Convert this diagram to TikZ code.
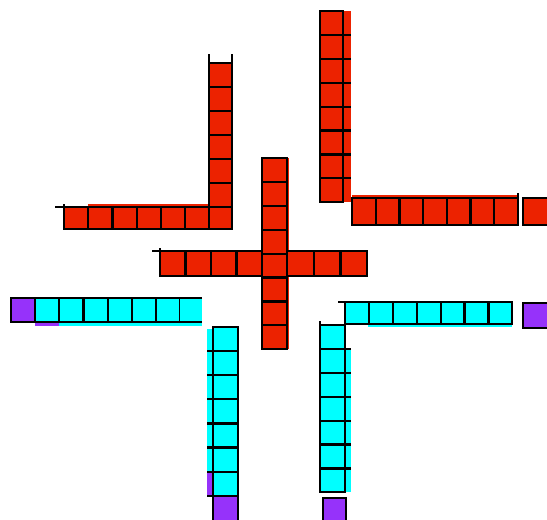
\documentclass[tikz,border=0pt]{standalone}
\definecolor{tilered}{RGB}{236,34,0}
\definecolor{tilecyan}{RGB}{0,255,255}
\definecolor{tilepurple}{RGB}{150,50,250}

\begin{document}
\begin{tikzpicture}[x=1pt, y=-1pt, line width=2.2pt,
    redtile/.style={draw=black, fill=tilered},
    cyantile/.style={draw=black, fill=tilecyan},
    purpletile/.style={draw=black, fill=tilepurple}]
    \useasboundingbox (0,0) rectangle (547,520);

    % Top left corner (red)
    \fill[tilered] (88,204) rectangle (209,229);
    \foreach \i in {0,...,5} \draw[redtile] (209,63+24*\i) rectangle ++(23,24);
    \draw[redtile] (209,207) rectangle (232,229);
    \foreach \i in {0,...,5} \draw[redtile] (64+24.2*\i,207) rectangle ++(24.2,22);
    \draw (209,54) -- (209,63) (232,54) -- (232,63);
    \draw (55,207) -- (64,207) (64,204) -- (64,207);

    % Top right corner (red)
    \fill[tilered] (320,11) rectangle (351,202);
    \foreach \i in {0,...,7} \draw[redtile] (320,11+23.9*\i) rectangle ++(23,23.9);
    \foreach \i in {1,...,7} \draw (343,11+23.9*\i) -- (351,11+23.9*\i);
    \fill[tilered] (352,195) rectangle (518,226);
    \foreach \i in {0,...,6} \draw[redtile] (352+23.7*\i,198) rectangle ++(23.7,27);
    \draw (518,193) -- (518,198);
    \draw[redtile] (523,198) rectangle (550,225);

    % Center cross (red)
    \fill[tilered] (262,158) rectangle (289,349);
    \foreach \i in {0,...,3} \draw[redtile] (160+25.5*\i,251) rectangle ++(25.5,25);
    \foreach \i in {0,...,2} \draw[redtile] (287+26.7*\i,251) rectangle ++(26.7,25);
    \foreach \i in {0,...,7} \draw[redtile] (262,158+23.9*\i) rectangle ++(25,23.9);
    \draw (152,251) -- (160,251) (160,248) -- (160,251);

    % Left arm (cyan)
    \fill[tilecyan] (59,298) rectangle (202,326);
    \fill[tilepurple] (35,320) rectangle (59,326);
    \draw[purpletile] (11,298) rectangle (35,322);
    \foreach \i in {0,...,5} \draw[cyantile] (35+24.2*\i,298) rectangle ++(24.2,24);
    \fill[tilecyan] (180,298) rectangle (202,322);
    \draw (180,298) -- (202,298) (180,322) -- (202,322);

    % Bottom left arm (cyan)
    \fill[tilecyan] (207,329) rectangle (213,472);
    \fill[tilepurple] (207,472) rectangle (213,496);
    \foreach \i in {0,...,6} \draw[cyantile] (213,327+24.1*\i) rectangle ++(25,24.1);
    \foreach \i in {1,...,7} \draw (207,327+24.1*\i) -- (213,327+24.1*\i);
    \draw[purpletile] (213,496) rectangle (238,522);

    % Bottom right arm (cyan)
    \fill[tilecyan] (345,350) rectangle (351,492);
    \foreach \i in {0,...,6} \draw[cyantile] (320,325+23.9*\i) rectangle ++(25,23.9);
    \foreach \i in {1,...,6} \draw (345,325+23.9*\i) -- (351,325+23.9*\i);
    \draw (320,321) -- (320,325);
    \draw[purpletile] (323,498) rectangle (346,522);

    % Right arm (cyan)
    \fill[tilecyan] (368,302) rectangle (512,327);
    \foreach \i in {0,...,6} \draw[cyantile] (345+23.9*\i,302) rectangle ++(23.9,22);
    \draw (338,302) -- (345,302);
    \draw[purpletile] (523,303) rectangle (550,328);
\end{tikzpicture}
\end{document}
